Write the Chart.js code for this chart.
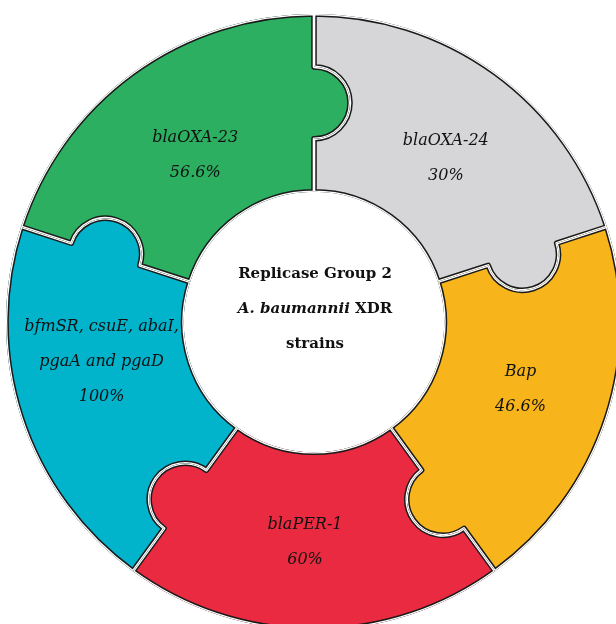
<!DOCTYPE html>
<html>
<head>
<meta charset="utf-8">
<script src="https://cdn.jsdelivr.net/npm/chart.js@4"></script>
<style>
  html, body { margin: 0; background: #ffffff; overflow: hidden; }
  canvas { display: block; }
</style>
</head>
<body>
<!-- a bit larger than the window: the ring runs off the right and bottom edges like the original -->
<canvas id="puzzle" width="632" height="640"></canvas>
<script>
// Genes detected in the replicase group 2 strains, clockwise from 12 o'clock
const genes = [
    ['blaOXA-24'],
    ['Bap'],
    ['blaPER-1'],
    ['bfmSR, csuE, abaI,', 'pgaA and pgaD'],
    ['blaOXA-23']
];
const prevalence = [30, 46.6, 60, 100, 56.6];  // % of strains
const pieceSizes = [1, 1, 1, 1, 1];            // puzzle pieces are all the same size
const pieceColors = ['#d6d6d9', '#f7b51b', '#e92a40', '#02b3cc', '#2caf61'];
const centerLines = ['Replicase Group 2', 'A. baumannii XDR', 'strains'];

// small hand nudges for the text blocks (the original was laid out by hand)
const labelNudge = [[3, 14], [-2, 0], [-9, 1], [-4, -28], [10, 11]];
const centerNudge = [1, -13];

const KNOB = 36;

function piecePath(ctx, arc) {
    const x = arc.x, y = arc.y;
    const a0 = arc.startAngle, a1 = arc.endAngle;
    const r0 = arc.innerRadius, r1 = arc.outerRadius;
    const rm = (r0 + r1) / 2;
    const c0 = Math.cos(a0), s0 = Math.sin(a0), c1 = Math.cos(a1), s1 = Math.sin(a1);

    ctx.beginPath();
    ctx.arc(x, y, r1, a0, a1);
    ctx.lineTo(x + c1 * (rm + KNOB), y + s1 * (rm + KNOB));
    // tab pushing into the next piece
    ctx.arc(x + c1 * rm, y + s1 * rm, KNOB, a1, a1 + Math.PI);
    ctx.lineTo(x + c1 * r0, y + s1 * r0);
    ctx.arc(x, y, r0, a1, a0, true);
    ctx.lineTo(x + c0 * (rm - KNOB), y + s0 * (rm - KNOB));
    // slot taking the previous piece's tab
    ctx.arc(x + c0 * rm, y + s0 * rm, KNOB, a0 + Math.PI, a0, true);
    ctx.closePath();
}

const puzzlePlugin = {
    id: 'puzzle',
    beforeDatasetDraw(chart, args) {
        const ctx = chart.ctx;
        args.meta.data.forEach((arc, i) => {
            ctx.save();
            piecePath(ctx, arc);
            ctx.fillStyle = arc.options.backgroundColor;
            ctx.fill();
            ctx.clip();
            ctx.lineJoin = 'round';
            ctx.strokeStyle = '#1a1a1a';
            ctx.lineWidth = 5.6;
            ctx.stroke();
            ctx.strokeStyle = '#ffffff';
            ctx.lineWidth = 2.6;
            ctx.stroke();
            ctx.restore();
        });
        return false;
    },
    afterDatasetsDraw(chart) {
        const ctx = chart.ctx;
        const arcs = chart.getDatasetMeta(0).data;
        const lineGap = 35;

        ctx.save();
        ctx.fillStyle = '#111111';
        ctx.textBaseline = 'middle';
        ctx.textAlign = 'center';
        ctx.font = 'italic 16px "DejaVu Serif"';
        arcs.forEach((arc, i) => {
            const mid = (arc.startAngle + arc.endAngle) / 2;
            const rm = (arc.innerRadius + arc.outerRadius) / 2;
            const cx = arc.x + Math.cos(mid) * rm + labelNudge[i][0];
            const cy = arc.y + Math.sin(mid) * rm + labelNudge[i][1];
            const lines = genes[i].concat([prevalence[i] + '%']);
            lines.forEach((t, j) => {
                ctx.fillText(t, cx, cy + (j - (lines.length - 1) / 2) * lineGap);
            });
        });

        // centre caption
        const ox = arcs[0].x + centerNudge[0], oy = arcs[0].y + centerNudge[1];
        ctx.font = 'bold 15px "DejaVu Serif"';
        ctx.fillText(centerLines[0], ox, oy - lineGap);
        ctx.fillText(centerLines[2], ox, oy + lineGap);

        // second line mixes bold italic species name and bold "XDR"
        const species = 'A. baumannii';
        const rest = centerLines[1].slice(species.length);
        ctx.font = 'italic bold 15px "DejaVu Serif"';
        const w1 = ctx.measureText(species).width;
        ctx.font = 'bold 15px "DejaVu Serif"';
        const w2 = ctx.measureText(rest).width;
        let left = ox - (w1 + w2) / 2;
        ctx.textAlign = 'left';
        ctx.font = 'italic bold 15px "DejaVu Serif"';
        ctx.fillText(species, left, oy);
        ctx.font = 'bold 15px "DejaVu Serif"';
        ctx.fillText(rest, left + w1, oy);
        ctx.restore();
    }
};

new Chart(document.getElementById('puzzle'), {
    type: 'doughnut',
    data: {
        labels: genes.map(g => g.join(' ')),
        datasets: [{
            data: pieceSizes,
            backgroundColor: pieceColors,
            borderWidth: 0
        }]
    },
    options: {
        responsive: false,
        animation: false,
        cutout: '42.3%',
        layout: { padding: { left: 6, top: 14, right: 10, bottom: 10 } },
        plugins: {
            legend: { display: false },
            tooltip: { enabled: false }
        }
    },
    plugins: [puzzlePlugin]
});
</script>
</body>
</html>
